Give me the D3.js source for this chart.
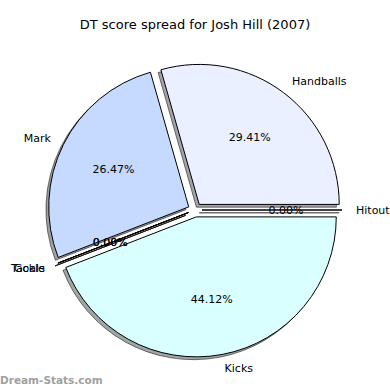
<!DOCTYPE html>
<html>
<head>
<meta charset="utf-8">
<script src="https://cdn.jsdelivr.net/npm/d3@7"></script>
<style>
  body { margin: 0; background: #fff; }
  text { font-family: "DejaVu Sans", sans-serif; fill: #000; }
</style>
</head>
<body>
<svg id="chart" width="390" height="390"></svg>
<script>
// stats for the pie, in the order they are laid out (counter-clockwise from 3 o'clock)
var categories = ["Handballs", "Mark", "Tackle", "Goals", "Kicks", "Hitout"];
var values = [10, 9, 0, 0, 15, 0];
var colors = ["#eaf0ff", "#c6d9ff", "#ffe8e8", "#fff0c8", "#d9ffff", "#e0ffe0"];
var title = "DT score spread for Josh Hill (2007)";

var width = 390, height = 390;
var cx = 195, cy = 210, radius = 140;
var explode = 0.05 * radius;
var shadowOff = 0.02 * radius;

var svg = d3.select("#chart");
var total = d3.sum(values);

var data = categories.map(function(c, i) {
	return {name: c, value: values[i], color: colors[i]};
});

// start at 3 o'clock and go counter-clockwise like matplotlib
var pie = d3.pie()
	.sort(null)
	.value(function(d) { return d.value; })
	.startAngle(Math.PI / 2)
	.endAngle(Math.PI / 2 - 2 * Math.PI);

var arcs = pie(data);
var arc = d3.arc().innerRadius(0).outerRadius(radius);

var midOf = function(d) { return (d.startAngle + d.endAngle) / 2; };
var offsetOf = function(d, dist) {
	var a = midOf(d);
	return [Math.sin(a) * dist, -Math.cos(a) * dist];
};

var shade = function(hex) {
	var c = d3.rgb(hex);
	return d3.rgb(c.r * 0.3, c.g * 0.3, c.b * 0.3).toString();
};

var g = svg.append("g").attr("transform", "translate(" + cx + "," + cy + ")");

// shadows go underneath all wedges
g.selectAll("path.shadow")
	.data(arcs)
	.enter()
	.append("path")
	.classed("shadow", true)
	.attr("transform", function(d) {
		var o = offsetOf(d, explode);
		return "translate(" + (o[0] - shadowOff) + "," + (o[1] + shadowOff) + ")";
	})
	.attr("d", arc)
	.attr("fill", function(d) { return shade(d.data.color); })
	.attr("fill-opacity", 0.5)
	.attr("stroke", "#000")
	.attr("stroke-opacity", 0.5)
	.attr("stroke-width", 1)
	.attr("stroke-linejoin", "miter");

g.selectAll("path.wedge")
	.data(arcs)
	.enter()
	.append("path")
	.classed("wedge", true)
	.attr("transform", function(d) {
		var o = offsetOf(d, explode);
		return "translate(" + o[0] + "," + o[1] + ")";
	})
	.attr("d", arc)
	.attr("fill", function(d) { return d.data.color; })
	.attr("stroke", "#000")
	.attr("stroke-width", 1)
	.attr("stroke-linejoin", "miter");

// category labels at 1.1 radius
g.selectAll("text.label")
	.data(arcs)
	.enter()
	.append("text")
	.classed("label", true)
	.attr("x", function(d) { return offsetOf(d, explode + 1.1 * radius)[0]; })
	.attr("y", function(d) { return offsetOf(d, explode + 1.1 * radius)[1]; })
	.attr("text-anchor", function(d) { return Math.sin(midOf(d)) > 0 ? "start" : "end"; })
	.attr("dominant-baseline", "central")
	.style("font-size", "11px")
	.text(function(d) { return d.data.name; });

// percentages at 0.6 radius
g.selectAll("text.pct")
	.data(arcs)
	.enter()
	.append("text")
	.classed("pct", true)
	.attr("x", function(d) { return offsetOf(d, explode + 0.6 * radius)[0]; })
	.attr("y", function(d) { return offsetOf(d, explode + 0.6 * radius)[1]; })
	.attr("text-anchor", "middle")
	.attr("dominant-baseline", "central")
	.style("font-size", "11px")
	.text(function(d) { return (100 * d.data.value / total).toFixed(2) + "%"; });

svg.append("text")
	.attr("x", 195)
	.attr("y", 29)
	.attr("text-anchor", "middle")
	.style("font-size", "13px")
	.text(title);

svg.append("text")
	.attr("x", 0)
	.attr("y", 384)
	.style("font-size", "10.5px")
	.style("font-weight", "bold")
	.style("fill", "#a0a0a0")
	.text("Dream-Stats.com");
</script>
</body>
</html>
